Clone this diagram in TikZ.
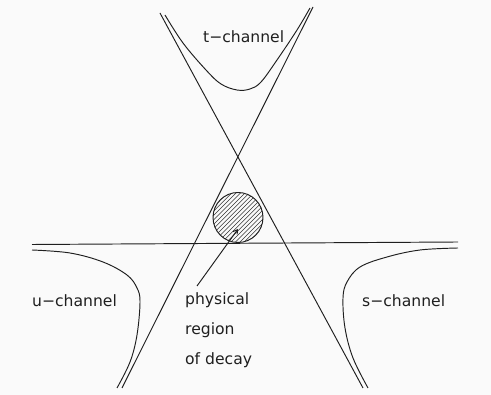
\documentclass[tikz,border=0pt]{standalone}
\usepackage{fontspec}
\setmainfont{DejaVu Sans}
\usetikzlibrary{arrows.meta}
\begin{document}
\begin{tikzpicture}[x=1pt,y=-1pt,
  ln/.style={line width=0.95pt, black!88},
  curve/.style={line width=0.95pt, black!88, smooth, tension=0.6},
  hatch/.style={line width=0.5pt, black!80},
  lbl/.style={anchor=base west, inner sep=0pt, font=\fontsize{15.6}{18}\selectfont, text=black!88}]
\fill[gray!4] (0,0) rectangle (491,395);
\useasboundingbox (0,0) rectangle (491,395);
% asymptote lines
\coordinate (L1a) at (160,13);
\coordinate (L1b) at (363,388);
\coordinate (L2a) at (313,7);
\coordinate (L2b) at (122,388);
\coordinate (Ha) at (32,244.5);
\coordinate (Hb) at (458,242);
\draw[ln] (L1a) -- (L1b);
\draw[ln] (L2a) -- (L2b);
\draw[ln] (Ha) -- (Hb);
% hyperbola branches
\draw[curve] plot coordinates {(165,15) (183,43) (206,70) (221,84) (237,90) (250,89) (261,82) (277,60) (297,30) (310,8)};
\draw[curve] plot coordinates {(32,250) (70,253) (103,262) (127,275) (137,288) (140,302) (137,335) (130,362) (117,388)};
\draw[curve] plot coordinates {(458,248) (420,250) (387,257) (360,267) (347,282) (343,298) (345,328) (353,358) (368,388)};
% physical region
\begin{scope}
  \clip (238,217.5) circle (25);
  \foreach \d in {-79.2,-74.8,...,80} \draw[hatch] (238+\d-40,257.5) -- (238+\d+40,177.5);
\end{scope}
\node[circle, draw, line width=0.95pt, black!88, minimum size=50pt, inner sep=0pt] (blob) at (238,217.5) {};
% labels
\node[lbl] (tch) at (203,43) {t−channel};
\node[lbl] (uch) at (32,307) {u−channel};
\node[lbl] (sch) at (362,307) {s−channel};
\node[lbl] (phys) at (185,305) {physical};
\node[lbl] (reg) at (185,335) {region};
\node[lbl] (dec) at (185,365) {of decay};
\coordinate (tail) at (197,286);
\coordinate (tip) at (238,229);
\draw[ln, -{Straight Barb[length=4pt,width=5pt]}] (tail) -- (tip);
\end{tikzpicture}
\end{document}
